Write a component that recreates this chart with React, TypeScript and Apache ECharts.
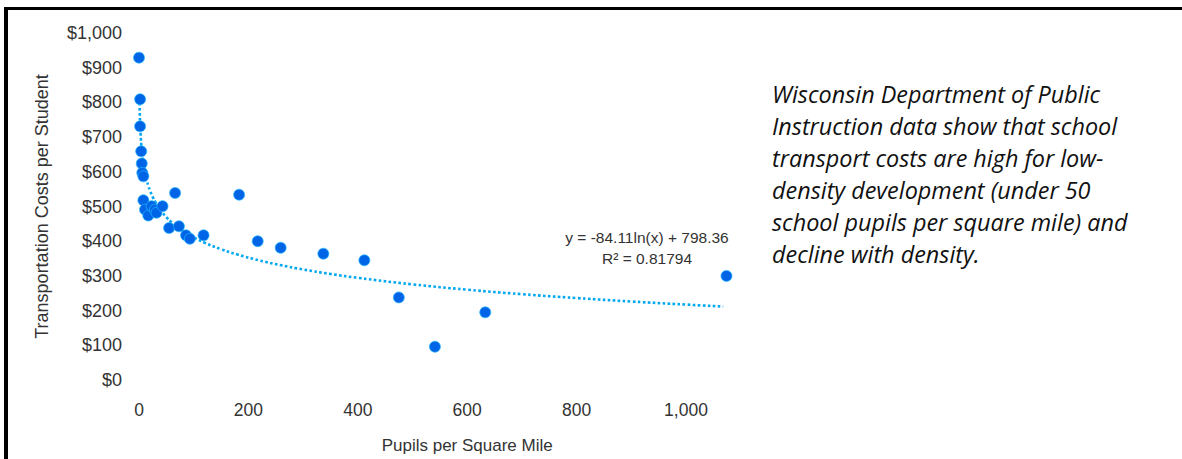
import React, { useEffect, useRef } from "react";
import * as echarts from "echarts";

// Pupils per square mile (x) and transportation cost per student (y)
const pupilsPerSqMile = [0, 2, 2, 4, 5, 6, 8, 8, 11, 17, 23, 29, 32, 43, 55, 66, 73, 86, 93, 118, 183, 217, 259, 337, 412, 475, 541, 633, 1074];
const costPerStudent = [929, 809, 731, 659, 624, 597, 587, 518, 491, 474, 501, 491, 482, 501, 438, 539, 443, 417, 407, 417, 534, 400, 381, 364, 345, 238, 96, 195, 300];

// Logarithmic trend line as printed on the chart: y = a ln(x) + b
const trendA = -84.11;
const trendB = 798.36;
const trendXs = [1, 1.2, 1.5, 2, 2.5, 3, 3.5, 4, 5, 6, 7, 8, 10, 12, 14, 17, 20, 25, 30, 35, 40, 50, 60, 70, 85, 100, 120, 150, 180, 220, 260, 300, 350, 400, 500, 600, 700, 800, 900, 1000, 1068];
const equationLines = ["y = -84.11ln(x) + 798.36", "R² = 0.81794"];

const yTicks = { min: 0, max: 1000, interval: 100 };
const xTicks = { min: 0, max: 1200, interval: 200 };

const noteLines = [
  "Wisconsin Department of Public",
  "Instruction data show that school",
  "transport costs are high for low-",
  "density development (under 50",
  "school pupils per square mile) and",
  "decline with density.",
];

const fmt = (v: number) => v.toLocaleString("en-US");

export default function App() {
  const ref = useRef<HTMLDivElement>(null);
  useEffect(() => {
    if (!ref.current) return;
    const chart = echarts.init(ref.current, null, { renderer: "svg" });
    const font = "'Liberation Sans', Arial, Helvetica, sans-serif";
    const scatterData = pupilsPerSqMile.map((x, i) => [x, costPerStudent[i]]);
    const trendData = trendXs.map((x) => [x, trendA * Math.log(x) + trendB]);
    chart.setOption({
      animation: false,
      backgroundColor: "#ffffff",
      grid: { left: 139, top: 33, width: 656.4, height: 348, containLabel: false },
      xAxis: {
        type: "value",
        min: xTicks.min,
        max: xTicks.max,
        interval: xTicks.interval,
        name: "Pupils per Square Mile",
        nameLocation: "middle",
        nameGap: 57,
        nameTextStyle: { fontFamily: font, fontSize: 17, color: "#333" },
        axisLine: { show: false },
        axisTick: { show: false },
        splitLine: { show: false },
        axisLabel: {
          margin: 21,
          fontFamily: font,
          fontSize: 17.5,
          color: "#333",
          formatter: (v: number) => (v >= xTicks.max ? "" : fmt(v)),
        },
      },
      yAxis: {
        type: "value",
        min: yTicks.min,
        max: yTicks.max,
        interval: yTicks.interval,
        name: "Transportation Costs per Student",
        nameLocation: "middle",
        nameGap: 88,
        nameTextStyle: { fontFamily: font, fontSize: 18, color: "#333" },
        axisLine: { show: false },
        axisTick: { show: false },
        splitLine: { show: false },
        axisLabel: {
          margin: 17,
          fontFamily: font,
          fontSize: 18,
          color: "#333",
          formatter: (v: number) => "$" + fmt(v),
        },
      },
      series: [
        {
          type: "line",
          data: trendData,
          showSymbol: false,
          symbol: "none",
          smooth: true,
          lineStyle: { color: "#00a8f0", width: 2.6, type: [2.6, 2.4] },
          z: 1,
          silent: true,
        },
        {
          type: "scatter",
          data: scatterData,
          symbolSize: 11,
          itemStyle: { color: "#0064e6", borderColor: "#22b8ff", borderWidth: 0.7, opacity: 1 },
          z: 2,
        },
      ],
      graphic: [
        { type: "rect", shape: { x: 4, y: 7, width: 4, height: 460 }, style: { fill: "#000" } },
        { type: "rect", shape: { x: 4, y: 7, width: 1180, height: 3 }, style: { fill: "#000" } },
        ...equationLines.map((t, i) => ({
          type: "text",
          x: 647,
          y: 237 + i * 21,
          style: {
            text: t,
            fontFamily: font,
            fontSize: 15.5,
            fill: "#333",
            textAlign: "center",
            textVerticalAlign: "middle",
          },
        })),
        ...noteLines.map((t, i) => ({
          type: "text",
          x: 772,
          y: 94 + i * 32,
          style: {
            text: t,
            fontFamily: "'Open Sans', 'Noto Sans', sans-serif",
            fontStyle: "italic",
            fontSize: 23.4,
            fill: "#111",
            textAlign: "left",
            textVerticalAlign: "middle",
          },
        })),
      ],
    });
    return () => chart.dispose();
  }, []);
  return (
    <div
      ref={ref}
      style={{ position: "fixed", left: 0, top: 0, width: 1182, height: 459, background: "#fff" }}
    />
  );
}
